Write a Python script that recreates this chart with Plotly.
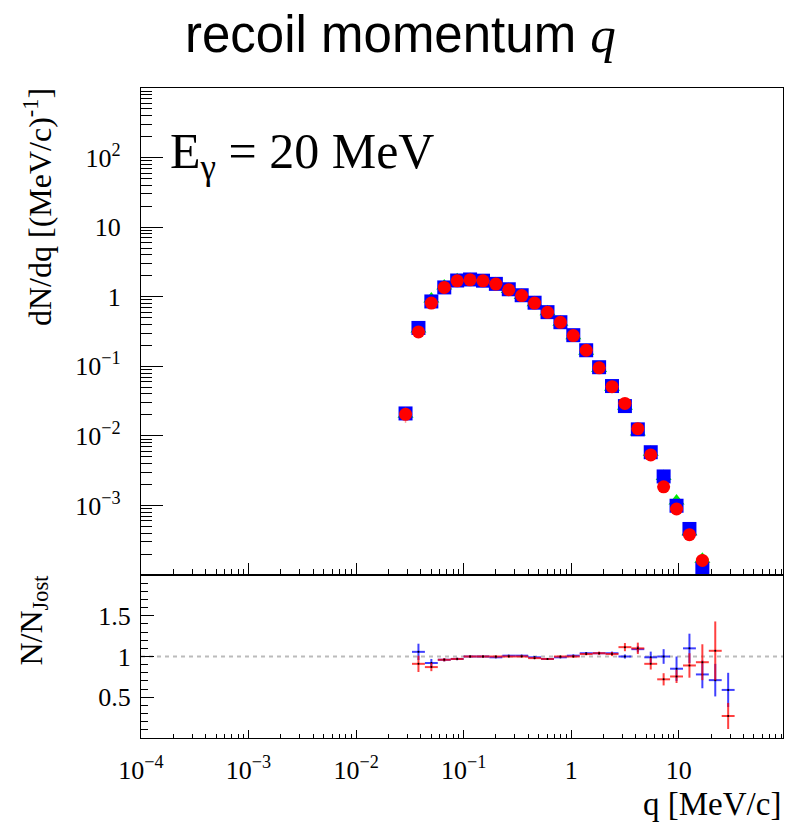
import plotly.graph_objects as go

# ---------------- data ----------------
# bin centres of q [MeV/c] (log bins, 0.12 decade wide)
q_center = [0.02884, 0.03802, 0.05012, 0.06607, 0.08710, 0.1148, 0.1514, 0.1995,
            0.2630, 0.3467, 0.4571, 0.6026, 0.7943, 1.047, 1.380, 1.820, 2.399,
            3.162, 4.169, 5.495, 7.244, 9.550, 12.59, 16.60, 21.88, 28.84]
log_bin_width = 0.12

# dN/dq, upper panel (first 24 bins)
green_jost = [0.0205, 0.343, 0.93, 1.42, 1.76, 1.77, 1.70, 1.53, 1.27, 1.04, 0.82, 0.61,
              0.43, 0.275, 0.165, 0.093, 0.050, 0.0266, 0.0114, 0.0058, 0.0026, 0.00116,
              0.00042, 0.000168]
blue_vals = [0.021, 0.356, 0.855, 1.36, 1.71, 1.77, 1.70, 1.53, 1.28, 1.05, 0.82, 0.60,
             0.43, 0.28, 0.17, 0.097, 0.052, 0.0268, 0.0124, 0.00582, 0.00261, 0.00099,
             0.000459, 0.000123]
red_vals = [0.0204, 0.312, 0.81, 1.36, 1.69, 1.75, 1.69, 1.52, 1.26, 1.04, 0.81, 0.596,
            0.428, 0.276, 0.17, 0.095, 0.051, 0.0293, 0.0127, 0.00532, 0.00185, 0.000888,
            0.00038, 0.000162]
red_err = [0.005, 0.02, 0.03, 0.03, 0.03, 0.03, 0.03, 0.03, 0.02, 0.02, 0.02, 0.01,
           0.01, 0.006, 0.004, 0.002, 0.0012, 0.0008, 0.0004, 0.0002, 0.0001, 0.00005,
           0.00003, 0.00002]

# ratio N/N_Jost, lower panel (bins 2..26)
ratio_blue = [1.057, 0.92, 0.96, 0.97, 1.0, 1.0, 0.99, 1.01, 1.01, 0.99, 0.97, 0.99, 1.01,
              1.04, 1.04, 1.04, 1.0, 1.09, 0.99, 1.0, 0.85, 1.10, 0.78, 0.71, 0.59]
ratio_blue_err = [0.10, 0.05, 0.02, 0.015, 0.012, 0.012, 0.012, 0.012, 0.012, 0.012, 0.012,
                  0.012, 0.015, 0.015, 0.015, 0.02, 0.025, 0.04, 0.07, 0.09, 0.15, 0.18,
                  0.17, 0.20, 0.21]
ratio_red = [0.91, 0.87, 0.96, 0.97, 1.0, 1.0, 1.0, 1.0, 1.0, 0.98, 0.97, 1.0, 1.0, 1.03,
             1.04, 1.03, 1.115, 1.10, 0.91, 0.72, 0.755, 0.89, 0.93, 1.07, 0.27]
ratio_red_err = [0.10, 0.05, 0.02, 0.015, 0.012, 0.012, 0.012, 0.012, 0.012, 0.012, 0.012,
                 0.012, 0.015, 0.015, 0.02, 0.025, 0.05, 0.07, 0.07, 0.075, 0.08, 0.15,
                 0.22, 0.36, 0.16]

y_tickvals = [1e-3, 1e-2, 1e-1, 1, 10, 100]
y_ticktext = ["10<sup>−3</sup>", "10<sup>−2</sup>", "10<sup>−1</sup>", "1", "10", "10<sup>2</sup>"]
x_tickvals = [1e-4, 1e-3, 1e-2, 1e-1, 1, 10]
x_ticktext = ["10<sup>−4</sup>", "10<sup>−3</sup>", "10<sup>−2</sup>", "10<sup>−1</sup>", "1", "10"]

# ---------------- geometry helpers ----------------
W, H = 786, 825
ML, MR, MT, MB = 141, 3, 88, 87
PW, PH = W - ML - MR, H - MT - MB
split = (738 - 575) / PH


def px(x):
    return (x - ML) / PW


def py(y):
    return (H - MB - y) / PH


f_up = 10 ** (log_bin_width / 2)
ex_plus = [q * (f_up - 1) for q in q_center]
ex_minus = [q * (1 - 1 / f_up) for q in q_center]

minor_log = [m * 10 ** e for e in range(-5, 4) for m in range(2, 10)]

fig = go.Figure()
n_top = len(blue_vals)

fig.add_trace(go.Scatter(
    x=q_center[:n_top], y=green_jost, mode="markers", xaxis="x", yaxis="y",
    marker=dict(symbol="triangle-up", size=14, color="#00ee00"),
    error_x=dict(type="data", symmetric=False, array=ex_plus[:n_top],
                 arrayminus=ex_minus[:n_top], color="#00ee00", thickness=1.5, width=0),
    showlegend=False))
fig.add_trace(go.Scatter(
    x=q_center[:n_top], y=blue_vals, mode="markers", xaxis="x", yaxis="y",
    marker=dict(symbol="square", size=14, color="#0000ff"),
    showlegend=False))
fig.add_trace(go.Scatter(
    x=q_center[:n_top], y=red_vals, mode="markers", xaxis="x", yaxis="y",
    marker=dict(symbol="circle", size=13, color="#ff0000"),
    error_x=dict(type="data", symmetric=False, array=ex_plus[:n_top],
                 arrayminus=ex_minus[:n_top], color="rgba(255,80,80,0.6)", thickness=1.5, width=0),
    error_y=dict(type="data", array=red_err, color="rgba(255,80,80,0.6)", thickness=1.5, width=0),
    showlegend=False))

fig.add_trace(go.Scatter(
    x=q_center[1:], y=ratio_blue, mode="markers", xaxis="x2", yaxis="y2",
    marker=dict(size=2, color="black"),
    error_x=dict(type="data", symmetric=False, array=ex_plus[1:], arrayminus=ex_minus[1:],
                 color="rgba(0,0,255,0.75)", thickness=2, width=0),
    error_y=dict(type="data", array=ratio_blue_err, color="rgba(0,0,255,0.75)", thickness=2, width=0),
    showlegend=False))
fig.add_trace(go.Scatter(
    x=q_center[1:], y=ratio_red, mode="markers", xaxis="x2", yaxis="y2",
    marker=dict(size=2, color="black"),
    error_x=dict(type="data", symmetric=False, array=ex_plus[1:], arrayminus=ex_minus[1:],
                 color="rgba(255,0,0,0.75)", thickness=2, width=0),
    error_y=dict(type="data", array=ratio_red_err, color="rgba(255,0,0,0.75)", thickness=2, width=0),
    showlegend=False))

fig.add_shape(type="line", xref="x2", yref="y2", x0=1e-4, x1=10 ** 1.97, y0=1, y1=1,
              line=dict(color="#bbbbbb", width=2, dash="4px,4px"), layer="below")

serif = "Liberation Serif"
xr = [-4, 1.97]
axis_common = dict(showline=True, linecolor="black", linewidth=1.2, mirror=True,
                   showgrid=False, zeroline=False, ticks="inside", tickcolor="black",
                   tickwidth=1, tickfont=dict(family=serif, size=26, color="black"))

fig.update_layout(
    width=W, height=H, margin=dict(l=ML, r=MR, t=MT, b=MB),
    paper_bgcolor="white", plot_bgcolor="white",
    xaxis=dict(type="log", range=xr, domain=[0, 1], anchor="y", showticklabels=False,
               tickmode="array", tickvals=x_tickvals, ticklen=12,
               minor=dict(ticks="inside", ticklen=6, tickcolor="black", tickmode="array",
                          tickvals=minor_log),
               **axis_common),
    yaxis=dict(type="log", range=[-4, 3], domain=[split, 1], anchor="x",
               tickmode="array", tickvals=y_tickvals, ticktext=y_ticktext, ticklen=22,
               ticklabelstandoff=14,
               minor=dict(ticks="inside", ticklen=11, tickcolor="black", tickmode="array",
                          tickvals=minor_log),
               **axis_common),
    xaxis2=dict(type="log", range=xr, domain=[0, 1], anchor="y2",
                tickmode="array", tickvals=x_tickvals, ticktext=x_ticktext, ticklen=8,
                ticklabelstandoff=9,
                minor=dict(ticks="inside", ticklen=4, tickcolor="black", tickmode="array",
                           tickvals=minor_log),
                **axis_common),
    yaxis2=dict(range=[0, 2], domain=[0, split], anchor="x2",
                tickmode="array", tickvals=[0.5, 1, 1.5], ticktext=["0.5", "1", "1.5"],
                ticklen=13, ticklabelstandoff=4,
                minor=dict(ticks="inside", ticklen=6.5, tickcolor="black", dtick=0.1, tick0=0),
                **axis_common),
)

annotations = [
    dict(text="recoil momentum <span style='font-family:Liberation Serif'><i>q</i></span>",
         x=px(400), y=py(34), xref="paper", yref="paper", xanchor="center", yanchor="middle",
         showarrow=False, font=dict(family="Liberation Sans", size=51, color="black")),
    dict(text="E<sub>γ</sub> = 20 MeV", x=px(168), y=py(155), xref="paper", yref="paper",
         xanchor="left", yanchor="middle", showarrow=False,
         font=dict(family=serif, size=50, color="black")),
    dict(text="dN/dq [(MeV/c)<sup>-1</sup>]", x=px(38), y=py(86), xref="paper", yref="paper",
         xanchor="center", yanchor="top", textangle=-90, showarrow=False,
         font=dict(family=serif, size=32, color="black")),
    dict(text="N/N<sub>Jost</sub>", x=px(33), y=py(573), xref="paper", yref="paper",
         xanchor="center", yanchor="top", textangle=-90, showarrow=False,
         font=dict(family=serif, size=32, color="black")),
    dict(text="q [MeV/c]", x=px(783), y=py(804), xref="paper", yref="paper",
         xanchor="right", yanchor="middle", showarrow=False,
         font=dict(family=serif, size=33, color="black")),
]
fig.update_layout(annotations=annotations)

fig.write_html("out.html")
